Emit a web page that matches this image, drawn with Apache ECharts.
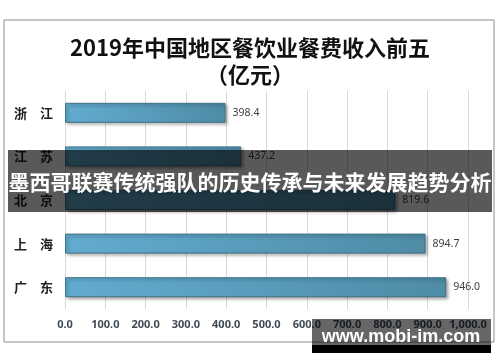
<!DOCTYPE html>
<html><head><meta charset="utf-8">
<script src="https://cdn.jsdelivr.net/npm/echarts@6/dist/echarts.min.js"></script>
<style>html,body{margin:0;padding:0;background:#fff}#c{width:500px;height:362px}</style>
</head><body><div id="c"></div>
<script>
const categories = ['浙江', '江苏', '北京', '上海', '广东'];
const revenue = [398.4, 437.2, 819.6, 894.7, 946.0];
const titleLine1 = '2019年中国地区餐饮业餐费收入前五';
const titleLine2 = '（亿元）';
const bannerText = '墨西哥联赛传统强队的历史传承与未来发展趋势分析';
const watermarkText = 'www.mobi-im.com';

const chart = echarts.init(document.getElementById('c'), null, {renderer: 'canvas'});
chart.setOption({
  backgroundColor: '#fff',
  animation: false,
  title: {
    text: titleLine1 + '\n' + titleLine2,
    left: 'center', top: 29,
    textStyle: {fontFamily: 'Noto Sans CJK SC', fontWeight: 'bold', fontSize: 22, color: '#111', lineHeight: 27}
  },
  grid: {left: 65, right: 32, top: 91, bottom: 53, containLabel: false},
  xAxis: {
    type: 'value', min: 0, max: 1000, interval: 100,
    axisLine: {show: false}, axisTick: {show: false},
    splitLine: {lineStyle: {color: '#d9d9d9', width: 1}},
    axisLabel: {formatter: v => v.toLocaleString('en-US', {minimumFractionDigits: 1, maximumFractionDigits: 1}),
      color: '#3f4a55', fontSize: 11, fontWeight: 'bold', fontFamily: 'Noto Sans', margin: 10}
  },
  yAxis: {
    type: 'category', data: categories, inverse: true,
    axisLine: {show: false}, axisTick: {show: false},
    axisLabel: {formatter: v => v.split('').join('　'), color: '#222', fontSize: 13, fontWeight: 'bold',
      fontFamily: 'Noto Sans CJK SC', margin: 12}
  },
  series: [{
    type: 'bar', data: revenue, barWidth: 20,
    itemStyle: {
      color: new echarts.graphic.LinearGradient(0, 0, 1, 0, [
        {offset: 0, color: '#62acd0'}, {offset: 1, color: '#4f8ca6'}]),
      borderColor: '#3e7189', borderWidth: 1,
      shadowColor: 'rgba(0,0,0,0.35)', shadowBlur: 3, shadowOffsetX: 2, shadowOffsetY: 2
    },
    label: {show: true, position: 'right', distance: 7, formatter: p => p.value.toFixed(1),
      color: '#404040', fontSize: 10.5, fontFamily: 'Noto Sans'}
  }],
  graphic: [
    {type: 'rect', shape: {x: 4, y: 20, width: 490, height: 322}, style: {fill: null, stroke: '#8c8c8c', lineWidth: 1}, z: 10},
    {type: 'rect', shape: {x: 8, y: 150, width: 484, height: 62}, style: {fill: 'rgba(0,0,0,0.65)'}, z: 20},
    {type: 'text', x: 250, y: 182, style: {text: bannerText, fill: '#fff', fontSize: 21, fontWeight: 'bold',
      fontFamily: 'Noto Sans CJK SC', align: 'center', verticalAlign: 'middle'}, z: 21},
    {type: 'rect', shape: {x: 312, y: 319, width: 179, height: 26}, style: {fill: 'rgba(0,0,0,0.6)'}, z: 20},
    {type: 'rect', shape: {x: 312, y: 345, width: 179, height: 8}, style: {fill: '#000'}, z: 20},
    {type: 'text', x: 401, y: 337, style: {text: watermarkText, fill: '#fff', fontSize: 18, fontWeight: 'bold',
      fontFamily: 'Liberation Sans', align: 'center', verticalAlign: 'middle'}, z: 21}
  ]
});
</script></body></html>
